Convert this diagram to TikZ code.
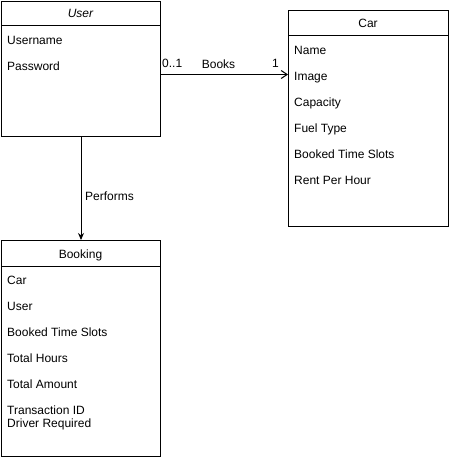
\documentclass[tikz,border=0pt]{standalone}
\usepackage{fontspec}
\setmainfont{Liberation Sans}
\usepackage{tikz}
\usetikzlibrary{arrows.meta,positioning}

\begin{document}
\begin{tikzpicture}[x=1pt,y=-1pt,
  class/.style={rectangle, draw, line width=1pt, anchor=north west, inner sep=0pt},
  attr/.style={anchor=west, inner sep=0pt, text height=8.6pt, text depth=0.5pt, font=\fontsize{12}{13}\selectfont},
  lbl/.style={inner sep=0pt, text height=8.6pt, text depth=0.5pt, font=\fontsize{12}{13}\selectfont}]

\useasboundingbox (0,0) rectangle (449,457);

% classes
\node[class, minimum width=159pt, minimum height=135pt] (user) at (1,1) {};
\node[class, minimum width=160pt, minimum height=216pt] (car) at (288,10) {};
\node[class, minimum width=159pt, minimum height=216pt] (booking) at (1,240) {};

\draw[line width=1pt] (1,26) -- (160,26);
\draw[line width=1pt] (288,36) -- (448,36);
\draw[line width=1pt] (1,266) -- (160,266);

\node[lbl] (userhead) at (80.5,13) {\itshape User};
\node[lbl] (carhead) at (368,23) {Car};
\node[lbl] (bookinghead) at (80.5,254) {Booking};

% attributes
\node[attr] (u1) at (7,40) {Username};
\node[attr] (u2) at (7,66) {Password};

\node[attr] (c1) at (294,50) {Name};
\node[attr] (c2) at (294,76) {Image};
\node[attr] (c3) at (294,102) {Capacity};
\node[attr] (c4) at (294,128) {Fuel Type};
\node[attr] (c5) at (294,154) {Booked Time Slots};
\node[attr] (c6) at (294,180) {Rent Per Hour};

\node[attr] (b1) at (7,280) {Car};
\node[attr] (b2) at (7,306) {User};
\node[attr] (b3) at (7,332) {Booked Time Slots};
\node[attr] (b4) at (7,358) {Total Hours};
\node[attr] (b5) at (7,384) {Total Amount};
\node[attr] (b6) at (7,410) {Transaction ID};
\node[attr] (b7) at (7,423) {Driver Required};

% associations
\draw[line width=1pt, -{Straight Barb[length=6pt,width=8pt]}]
  ([yshift=-5.5pt]user.east) -- ([yshift=-5.5pt]user.east -| car.west);
\node[lbl, anchor=west] (mult1) at (162,63) {0..1};
\node[lbl] (books) at (218.5,64) {Books};
\node[lbl, anchor=east] (mult2) at (279,63) {1};

\draw[line width=1pt, -{Stealth[length=7pt,width=6pt]}] (user.south) -- (booking.north);
\node[lbl, anchor=west] (performs) at (85,196) {Performs};

\end{tikzpicture}
\end{document}
